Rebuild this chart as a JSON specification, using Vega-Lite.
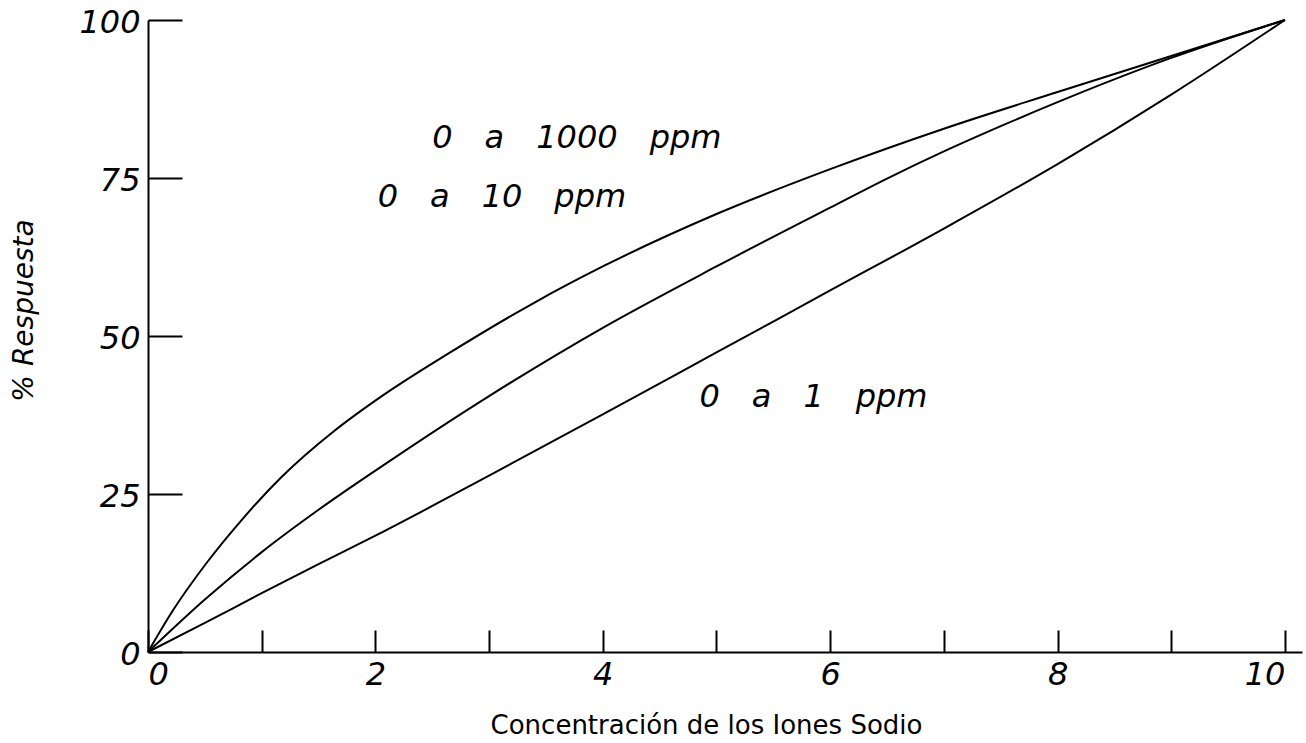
{
  "$schema": "https://vega.github.io/schema/vega-lite/v6.json",
  "autosize": {"type": "none"},
  "padding": {"left": 148, "top": 20, "right": 4, "bottom": 91},
  "width": 1154,
  "height": 632,
  "background": "white",
  "config": {
    "view": {"stroke": null},
    "axis": {
      "domainColor": "black",
      "domainWidth": 2,
      "tickColor": "black",
      "tickWidth": 2,
      "grid": false,
      "labelColor": "black",
      "labelFont": "DejaVu Sans",
      "labelFontStyle": "italic",
      "labelFontSize": 32,
      "titleColor": "black",
      "titleFont": "DejaVu Sans",
      "titleFontWeight": "normal"
    }
  },
  "datasets": {
    "curves": [
      {"series": "0 a 1000 ppm", "x": 0, "y": 0},
      {"series": "0 a 1000 ppm", "x": 0.22, "y": 6.6},
      {"series": "0 a 1000 ppm", "x": 0.52, "y": 14.2},
      {"series": "0 a 1000 ppm", "x": 0.81, "y": 20.6},
      {"series": "0 a 1000 ppm", "x": 1.17, "y": 27.6},
      {"series": "0 a 1000 ppm", "x": 1.64, "y": 35},
      {"series": "0 a 1000 ppm", "x": 2.05, "y": 40.4},
      {"series": "0 a 1000 ppm", "x": 2.64, "y": 47.2},
      {"series": "0 a 1000 ppm", "x": 3.4, "y": 55.3},
      {"series": "0 a 1000 ppm", "x": 4, "y": 61},
      {"series": "0 a 1000 ppm", "x": 5, "y": 69.3},
      {"series": "0 a 1000 ppm", "x": 6, "y": 76.4},
      {"series": "0 a 1000 ppm", "x": 7, "y": 82.8},
      {"series": "0 a 1000 ppm", "x": 8, "y": 88.6},
      {"series": "0 a 1000 ppm", "x": 9, "y": 94.3},
      {"series": "0 a 1000 ppm", "x": 10, "y": 100},
      {"series": "0 a 10 ppm", "x": 0, "y": 0},
      {"series": "0 a 10 ppm", "x": 0.5, "y": 8.3},
      {"series": "0 a 10 ppm", "x": 1, "y": 15.8},
      {"series": "0 a 10 ppm", "x": 1.5, "y": 22.5},
      {"series": "0 a 10 ppm", "x": 2, "y": 28.7},
      {"series": "0 a 10 ppm", "x": 3, "y": 40.5},
      {"series": "0 a 10 ppm", "x": 4, "y": 51.3},
      {"series": "0 a 10 ppm", "x": 5, "y": 61},
      {"series": "0 a 10 ppm", "x": 6, "y": 70.3},
      {"series": "0 a 10 ppm", "x": 6.5, "y": 74.9},
      {"series": "0 a 10 ppm", "x": 7, "y": 79.2},
      {"series": "0 a 10 ppm", "x": 7.5, "y": 83.2},
      {"series": "0 a 10 ppm", "x": 8, "y": 87},
      {"series": "0 a 10 ppm", "x": 9, "y": 94},
      {"series": "0 a 10 ppm", "x": 10, "y": 100},
      {"series": "0 a 1 ppm", "x": 0, "y": 0},
      {"series": "0 a 1 ppm", "x": 0.5, "y": 4.6},
      {"series": "0 a 1 ppm", "x": 1, "y": 9.3},
      {"series": "0 a 1 ppm", "x": 1.5, "y": 13.9},
      {"series": "0 a 1 ppm", "x": 2, "y": 18.4},
      {"series": "0 a 1 ppm", "x": 3, "y": 27.9},
      {"series": "0 a 1 ppm", "x": 4, "y": 37.6},
      {"series": "0 a 1 ppm", "x": 5, "y": 47.4},
      {"series": "0 a 1 ppm", "x": 6, "y": 57.2},
      {"series": "0 a 1 ppm", "x": 7, "y": 67},
      {"series": "0 a 1 ppm", "x": 8, "y": 77.2},
      {"series": "0 a 1 ppm", "x": 9, "y": 88.2},
      {"series": "0 a 1 ppm", "x": 10, "y": 100}
    ],
    "labels": [
      {"label": "0\u2002\u2002a\u2002\u20021000\u2002\u2002ppm", "x": 2.5, "y": 79.7},
      {"label": "0\u2002\u2002a\u2002\u200210\u2002\u2002ppm", "x": 2.02, "y": 70.4},
      {"label": "0\u2002\u2002a\u2002\u20021\u2002\u2002ppm", "x": 4.85, "y": 38.8}
    ]
  },
  "layer": [
    {
      "data": {"name": "curves"},
      "mark": {"type": "line", "color": "black", "strokeWidth": 2, "interpolate": "monotone"},
      "encoding": {
        "x": {
          "field": "x", "type": "quantitative",
          "scale": {"domain": [0, 10.15], "nice": false, "zero": false},
          "axis": {
            "values": [0, 1, 2, 3, 4, 5, 6, 7, 8, 9, 10],
            "format": "d",
            "labelExpr": "datum.value % 2 == 0 ? datum.label : ''",
            "labelFlush": 20,
            "tickSize": -22,
            "labelPadding": 29,
            "title": "Concentración de los Iones Sodio",
            "titleFontSize": 26,
            "titleFontStyle": "normal",
            "titleX": 558,
            "titleY": 81,
            "titleAlign": "center",
            "titleBaseline": "alphabetic"
          }
        },
        "y": {
          "field": "y", "type": "quantitative",
          "scale": {"domain": [0, 100], "nice": false},
          "axis": {
            "values": [0, 25, 50, 75, 100],
            "tickSize": -34,
            "labelPadding": 42,
            "labelBaseline": "middle",
            "labelOffset": 2,
            "title": "% Respuesta",
            "titleFontSize": 28,
            "titleFontStyle": "italic",
            "titleX": -124,
            "titleY": 290,
            "titleAngle": -90,
            "titleAlign": "center",
            "titleBaseline": "middle"
          }
        },
        "detail": {"field": "series"}
      }
    },
    {
      "data": {"name": "labels"},
      "mark": {"type": "text", "font": "DejaVu Sans", "fontStyle": "italic", "fontSize": 32, "align": "left", "baseline": "alphabetic", "color": "black"},
      "encoding": {
        "x": {"field": "x", "type": "quantitative"},
        "y": {"field": "y", "type": "quantitative"},
        "text": {"field": "label"}
      }
    }
  ]
}
